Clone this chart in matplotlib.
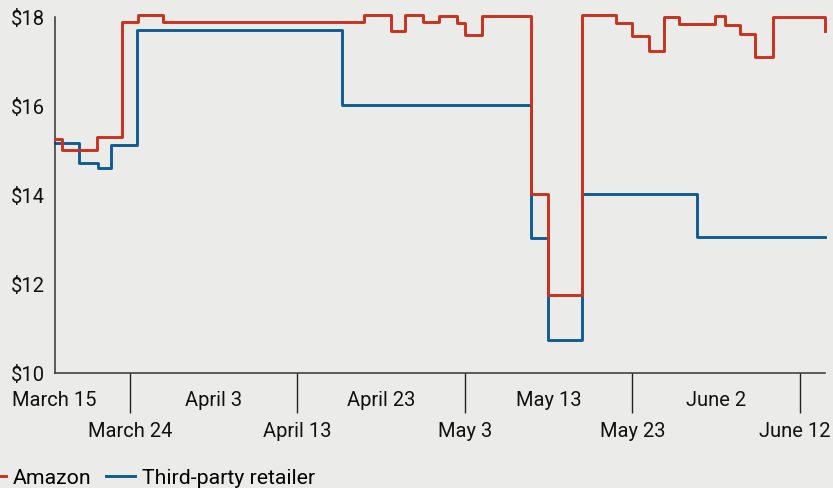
import matplotlib
matplotlib.use("Agg")
import matplotlib.pyplot as plt
from matplotlib.ticker import FixedLocator, FixedFormatter
from matplotlib.transforms import ScaledTranslation

# Days since March 15
amazon_days = [0, 0.9, 5.1, 8.1, 10.0, 12.9, 37.0, 40.2, 41.8, 44.0, 45.9, 48.0, 49.0,
               51.1, 56.9, 58.9, 63.0, 67.0, 68.9, 71.0, 72.8, 74.6, 78.9, 80.0, 81.9,
               83.6, 85.8, 92.0]
amazon_price = [15.26, 15.01, 15.30, 17.88, 18.04, 17.88, 18.04, 17.68, 18.04, 17.88, 18.03,
                17.86, 17.60, 18.02, 14.02, 11.75, 18.04, 17.86, 17.58, 17.24, 18.00, 17.84,
                18.02, 17.83, 17.62, 17.09, 18.01, 17.68]

third_days = [0, 2.9, 5.2, 6.7, 9.8, 34.3, 56.9, 58.9, 63.0, 76.7, 92.0]
third_price = [15.17, 14.72, 14.61, 15.12, 17.71, 16.03, 13.03, 10.74, 14.02, 13.06, 13.06]

row1_days = [0, 19, 39, 59, 79]
row1_labels = ["March 15", "April 3", "April 23", "May 13", "June 2"]
row2_days = [9, 29, 49, 69, 89]
row2_labels = ["March 24", "April 13", "May 3", "May 23", "June 12"]

y_ticks = [10, 12, 14, 16, 18]
y_labels = ["$10", "$12", "$14", "$16", "$18"]

BG = "#ebecea"
RED = "#c8321e"
BLUE = "#0f5c94"
FONT = ["Roboto", "DejaVu Sans"]
FS = 14.5
LFS = 15.3

plt.rcParams["font.family"] = FONT

fig = plt.figure(figsize=(8.33, 4.89), dpi=100, facecolor=BG)
PX = 8.375  # pixels per day
ax = fig.add_axes([54.5 / 833, 1 - 374 / 489, (825 - 54.5) / 833, (374 - 18) / 489])
ax.set_facecolor(BG)

l1, = ax.step(amazon_days, amazon_price, where="post", color=RED, lw=2.1,
              clip_on=False, zorder=3, label="Amazon")
l2, = ax.step(third_days, third_price, where="post", color=BLUE, lw=2.1,
              clip_on=False, zorder=2, label="Third-party retailer")

ax.set_xlim(0, (825 - 54.5) / PX)
ax.set_ylim(10, 18)

for s in ["top", "right"]:
    ax.spines[s].set_visible(False)
for s in ["left", "bottom"]:
    ax.spines[s].set_color("#333333")
    ax.spines[s].set_linewidth(1.1)

ax.set_yticks(y_ticks)
ax.set_yticklabels(y_labels, fontsize=FS, color="#111111")
ax.tick_params(axis="y", length=0, pad=7)

ax.xaxis.set_major_locator(FixedLocator(row2_days))
ax.xaxis.set_major_formatter(FixedFormatter(row2_labels))
ax.xaxis.set_minor_locator(FixedLocator(row1_days))
ax.xaxis.set_minor_formatter(FixedFormatter(row1_labels))
ax.tick_params(axis="x", which="major", length=29, width=1.0, color="#222222",
               pad=5.5, labelsize=FS, labelcolor="#111111")
ax.tick_params(axis="x", which="minor", length=0, pad=12.5,
               labelsize=FS, labelcolor="#111111")

# nudge the last label slightly left, as in the reference
last = ax.xaxis.get_major_ticks()[-1].label1
last.set_transform(last.get_transform() + ScaledTranslation(-5 / 100, 0, fig.dpi_scale_trans))

fig.legend(handles=[l1, l2], loc="center left", bbox_to_anchor=(-23 / 833, 1 - 479 / 489),
           ncol=2, frameon=False, fontsize=LFS, handlelength=1.35, handletextpad=0.33,
           columnspacing=0.7, borderpad=0, borderaxespad=0)

fig.savefig("out.png", dpi=100, facecolor=BG)
